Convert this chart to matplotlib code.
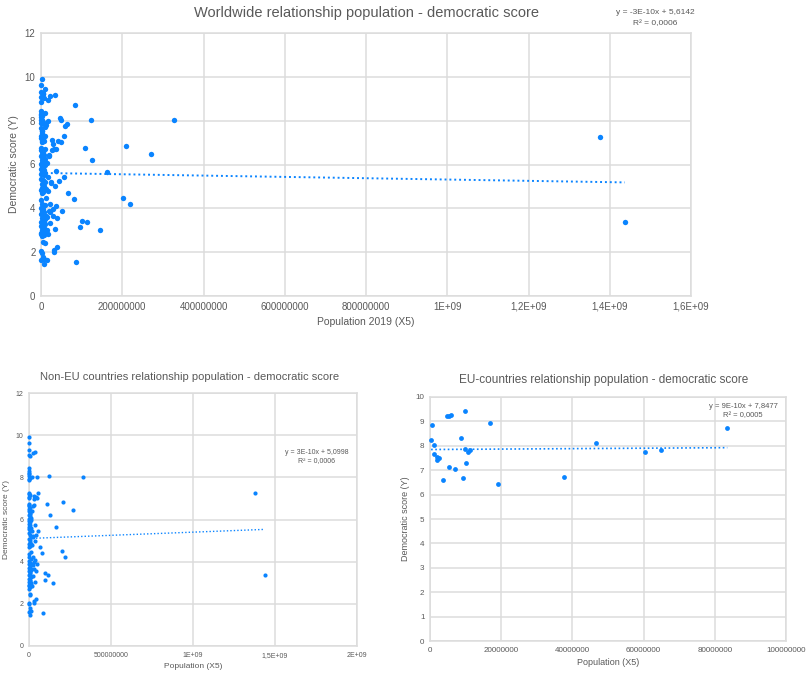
import matplotlib
matplotlib.use('Agg')
import matplotlib.pyplot as plt
import numpy as np

plt.rcParams['font.family'] = ['Liberation Sans', 'DejaVu Sans']

# ---------------- data (population in millions, democratic score) ----------------
pop_non_eu = [1377, 1437, 327, 271, 208, 203, 219, 162, 124, 126, 108, 113, 100, 95, 144, 87,
              82, 67, 57, 56, 51, 50, 48, 43, 40, 44, 38, 37, 35, 22, 35, 40, 31, 33, 34, 31,
              26, 30, 28, 29, 22, 29, 24, 25, 22, 22, 17, 18, 16.5, 14, 14, 14,
              19, 15, 13, 16, 20,
              2, 0.5, 0.4, 0.8, 7,
              0.5, 1, 1.5, 0.3, 2, 4, 3, 0.6,
              0.8, 4, 0.3, 1.5, 2.5,
              0.5, 1, 3, 5, 2, 7, 0.8, 4, 9, 1.5, 6, 3.5, 0.4, 10, 2.5, 5.5, 0.7, 8, 3, 11, 1.2, 6.5,
              0.9, 4.5, 9.5, 2, 7, 3.5, 0.6, 12, 5, 2.8, 0.4,
              3, 10, 0.8, 5, 1.5, 7, 4, 0.4, 12, 2.5, 9, 6, 1, 7.5, 3.5, 11, 0.6, 5.5, 8, 2, 4.5,
              10, 0.5, 1.2, 6.5, 3,
              5, 9, 0.5, 2, 6, 1, 8, 7]
score_non_eu = [7.27, 3.38, 8.02, 6.46, 6.84, 4.49, 4.20, 5.66, 8.05, 6.22, 6.75, 3.38, 3.44, 3.13, 3.00, 1.55,
                4.42, 4.68, 7.28, 5.45, 3.87, 8.03, 7.04, 7.07, 3.57, 5.25, 5.72, 4.10, 9.18, 9.14, 3.05, 2.22, 2.12, 2.02, 5.00, 6.69,
                6.66, 6.95, 7.10, 3.65, 3.83, 3.97, 5.22, 5.15, 4.20, 3.33, 5.44, 4.80, 8.00, 3.01, 3.62, 1.64,
                6.39, 6.05, 4.45, 2.85, 3.90,
                9.92, 9.63, 9.31, 9.07, 9.02,
                8.42, 8.30, 8.20, 8.15, 8.05, 7.95, 7.90, 7.88,
                7.28, 7.15, 7.20, 7.07, 7.02,
                6.75, 6.68, 6.62, 6.55, 6.48, 6.42, 6.38, 6.30, 6.27, 6.19, 6.15, 6.08, 6.02, 5.98, 5.93, 5.86, 5.81, 5.74, 5.65, 5.61, 5.55, 5.50,
                5.35, 5.28, 5.18, 5.09, 5.02, 4.93, 4.85, 4.86, 4.76, 4.70, 4.38,
                4.21, 4.15, 4.02, 3.95, 3.88, 3.82, 3.76, 3.72, 3.66, 3.58, 3.52, 3.45, 3.38, 3.36, 3.31, 3.27, 3.20, 3.14, 3.08, 3.02, 2.95,
                2.90, 2.88, 2.84, 2.78, 2.72,
                2.45, 2.40, 2.05, 1.98, 1.80, 1.62, 1.68, 1.45]

pop_eu = [0.3, 0.56, 1.1, 1.1, 1.9, 1.9, 2.6, 3.7, 4.9, 5.4, 5.8, 5.4, 6.9, 8.8, 9.9, 9.9,
          9.4, 10.2, 10.7, 11.3, 16.9, 19.0, 37.6, 46.6, 60.3, 65.0, 83.5]
score_eu = [8.24, 8.86, 8.02, 7.65, 7.54, 7.43, 7.52, 6.61, 9.21, 9.23, 9.27, 7.13, 7.06, 8.34, 9.43, 7.87,
            6.69, 7.30, 7.73, 7.82, 8.95, 6.43, 6.72, 8.13, 7.76, 7.84, 8.71]

# trendline coefficients as printed on the charts
trend_world = (-3e-10, 5.6142)
trend_non_eu = (3e-10, 5.0998)
trend_eu = (9e-10, 7.8477)
eq_world = ['y = -3E-10x + 5,6142', 'R² = 0,0006']
eq_non_eu = ['y = 3E-10x + 5,0998', 'R² = 0,0006']
eq_eu = ['y = 9E-10x + 7,8477', 'R² = 0,0005']

xt_world = [0, 2e8, 4e8, 6e8, 8e8, 1e9, 1.2e9, 1.4e9, 1.6e9]
xl_world = ['0', '200000000', '400000000', '600000000', '800000000', '1E+09', '1,2E+09', '1,4E+09', '1,6E+09']
xt_non_eu = [0, 5e8, 1e9, 1.5e9, 2e9]
xl_non_eu = ['0', '500000000', '1E+09', '1,5E+09', '2E+09']
xt_eu = [0, 2e7, 4e7, 6e7, 8e7, 1e8]
xl_eu = ['0', '20000000', '40000000', '60000000', '80000000', '100000000']

x_non_eu = np.array(pop_non_eu) * 1e6
y_non_eu = np.array(score_non_eu)
x_eu = np.array(pop_eu) * 1e6
y_eu = np.array(score_eu)
x_world = np.concatenate([x_non_eu, x_eu])
y_world = np.concatenate([y_non_eu, y_eu])

BLUE = '#0a84ff'
GRID = '#dcdcdc'
TXT = '#595959'
W, H = 806, 674

fig = plt.figure(figsize=(W / 100, H / 100), dpi=100)


def make_ax(l, t, r, b):
    return fig.add_axes([l / W, 1 - b / H, (r - l) / W, (b - t) / H])


def style(ax, xt, xl, yt, xlim, ylim, fs):
    ax.set_xlim(*xlim)
    ax.set_ylim(*ylim)
    ax.set_xticks(xt)
    ax.set_xticklabels(xl)
    ax.set_yticks(yt)
    ax.set_yticklabels([str(v) for v in yt])
    ax.grid(True, color=GRID, lw=1.1)
    ax.set_axisbelow(True)
    for s in ax.spines.values():
        s.set_color(GRID)
        s.set_linewidth(1.1)
    ax.tick_params(length=0, labelsize=fs, colors=TXT, pad=4)


def trend(ax, x, coef, lw):
    xs = np.array([x.min(), x.max()])
    ax.plot(xs, coef[0] * xs + coef[1], ls=(0, (1, 1.5)), color=BLUE, lw=lw, zorder=2)


# ---------------- worldwide ----------------
ax1 = make_ax(41, 33, 691, 296)
style(ax1, xt_world, xl_world, list(range(0, 13, 2)), (0, 1.6e9), (0, 12), 7)
ax1.scatter(x_world, y_world, s=15, color=BLUE, zorder=3, linewidths=0, clip_on=False)
trend(ax1, x_world, trend_world, 1.4)
fig.text(366 / W, 1 - 13 / H, 'Worldwide relationship population - democratic score',
         ha='center', va='center', fontsize=10.5, color=TXT)
fig.text(655 / W, 1 - 12 / H, eq_world[0], ha='center', va='center', fontsize=6, color=TXT)
fig.text(655 / W, 1 - 24 / H, eq_world[1], ha='center', va='center', fontsize=6, color=TXT)
ax1.set_xlabel('Population 2019 (X5)', fontsize=7.5, color=TXT, labelpad=4)
ax1.set_ylabel('Democratic score (Y)', fontsize=7.5, color=TXT, labelpad=4)

# ---------------- non-EU ----------------
ax2 = make_ax(29, 393, 357, 646)
style(ax2, xt_non_eu, xl_non_eu, list(range(0, 13, 2)), (0, 2e9), (0, 12), 5)
ax2.scatter(x_non_eu, y_non_eu, s=9, color=BLUE, zorder=3, linewidths=0, clip_on=False)
trend(ax2, x_non_eu, trend_non_eu, 1.0)
fig.text(190 / W, 1 - 377 / H, 'Non-EU countries relationship population - democratic score',
         ha='center', va='center', fontsize=8, color=TXT)
fig.text(317 / W, 1 - 452 / H, eq_non_eu[0], ha='center', va='center', fontsize=5, color=TXT)
fig.text(317 / W, 1 - 461 / H, eq_non_eu[1], ha='center', va='center', fontsize=5, color=TXT)
ax2.set_xlabel('Population (X5)', fontsize=6, color=TXT, labelpad=3)
ax2.set_ylabel('Democratic score (Y)', fontsize=6, color=TXT, labelpad=4)

# ---------------- EU ----------------
ax3 = make_ax(430, 397, 786, 641)
style(ax3, xt_eu, xl_eu, list(range(0, 11)), (0, 1e8), (0, 10), 5.8)
ax3.scatter(x_eu, y_eu, s=12, color=BLUE, zorder=3, linewidths=0, clip_on=False)
trend(ax3, x_eu, trend_eu, 1.2)
fig.text(604 / W, 1 - 380 / H, 'EU-countries relationship population - democratic score',
         ha='center', va='center', fontsize=8.5, color=TXT)
fig.text(743 / W, 1 - 407 / H, eq_eu[0], ha='center', va='center', fontsize=5.5, color=TXT)
fig.text(743 / W, 1 - 416 / H, eq_eu[1], ha='center', va='center', fontsize=5.5, color=TXT)
ax3.set_xlabel('Population (X5)', fontsize=6.5, color=TXT, labelpad=3)
ax3.set_ylabel('Democratic score (Y)', fontsize=6.5, color=TXT, labelpad=4)

fig.savefig('out.png', dpi=100)
